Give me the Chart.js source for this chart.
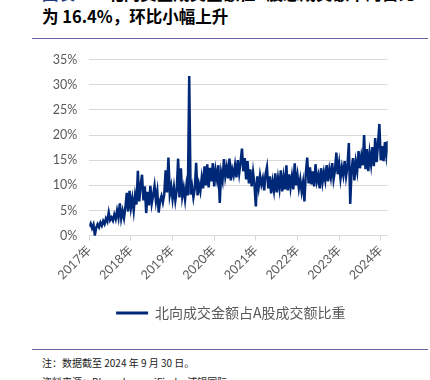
<!DOCTYPE html>
<html lang="zh">
<head>
<meta charset="UTF-8">
<title>北向成交金额占A股成交额比重</title>
<script src="https://cdn.jsdelivr.net/npm/chart.js"></script>
<style>
  html, body { margin: 0; padding: 0; background: #fff; }
  body { width: 430px; height: 380px; position: relative; overflow: hidden; font-family: "Noto Sans CJK SC", sans-serif; }
  .title { position: absolute; left: 42px; top: -18px; font-size: 16.5px; font-weight: bold; line-height: 23px; color: #000; white-space: nowrap; }
  .title .num { color: #1f3a7a; }
  .rule { position: absolute; left: 32px; width: 396px; height: 1px; background: #6464a0; }
  .note { position: absolute; left: 42px; font-size: 10px; color: #222; white-space: nowrap; line-height: 14px; }
  #wrap { position: absolute; left: 0; top: 40px; width: 430px; height: 300px; }
</style>
</head>
<body>
<div class="title"><span class="num">图表 11:</span> 北向资金成交金额在A股总成交额中的占比<br>为 16.4%，环比小幅上升</div>
<div class="rule" style="top:38px"></div>
<div id="wrap"><canvas id="myChart" width="430" height="300"></canvas></div>
<div class="rule" style="top:349px"></div>
<div class="note" style="top:356px">注：数据截至 2024 年 9 月 30 日。</div>
<div class="note" style="top:375px">资料来源：Bloomberg，iFind，浦银国际</div>
<script>
    const seriesName = '北向成交金额占A股成交额比重';
    const yearLabels = ['2017年', '2018年', '2019年', '2020年', '2021年', '2022年', '2023年', '2024年'];
    const pointsPerYear = 30;
    // share of A-share turnover, %
    const shareValues = [
        1.8, 2.4, 1.5, 2.2, 0.1, 1.6, 2.3, 1.7, 2.6, 2.0,
        2.9, 2.3, 3.4, 2.8, 4.6, 3.1, 3.6, 3.0, 4.2, 3.3,
        5.0, 3.6, 6.4, 3.4, 4.9, 3.5, 5.6, 8.5, 4.8, 8.9,
        5.6, 7.4, 5.0, 8.0, 6.2, 12.9, 6.8, 10.0, 12.1, 7.0,
        9.8, 4.5, 8.7, 6.0, 9.9, 6.4, 8.0, 9.9, 6.9, 8.8,
        4.6, 7.0, 7.9, 6.6, 8.2, 13.0, 8.6, 15.5, 8.2, 9.8,
        7.3, 9.6, 7.0, 9.0, 15.3, 7.6, 13.4, 7.8, 9.5, 7.2,
        10.0, 8.0, 31.7, 8.2, 9.8, 7.6, 9.4, 14.5, 8.0, 10.2,
        8.8, 11.5, 9.4, 13.8, 10.0, 14.2, 9.6, 13.5, 10.8, 14.4,
        9.8, 13.0, 11.2, 14.0, 6.5, 12.5, 11.0, 15.2, 11.8, 13.6,
        11.4, 15.3, 11.0, 13.2, 12.0, 14.0, 11.6, 15.0, 12.4, 14.6,
        17.3, 12.8, 15.4, 11.2, 14.8, 10.4, 13.2, 9.8, 12.6, 10.2,
        5.8, 11.8, 9.6, 12.0, 10.2, 11.4, 9.0, 12.2, 13.6, 9.4,
        11.8, 8.4, 10.8, 9.0, 12.4, 8.6, 11.4, 9.4, 13.0, 8.8,
        11.6, 9.2, 14.0, 9.0, 12.2, 9.6, 11.8, 9.2, 14.4, 10.0,
        12.0, 9.4, 11.2, 8.8, 10.6, 6.8, 12.4, 15.5, 10.4, 13.6,
        10.2, 12.8, 9.8, 14.2, 10.8, 12.0, 9.4, 13.4, 10.6, 12.6,
        11.0, 14.0, 10.8, 13.2, 11.6, 14.4, 11.2, 13.0, 16.5, 12.2,
        14.4, 11.4, 13.6, 12.0, 14.8, 11.8, 13.8, 18.4, 6.3, 13.2,
        15.4, 11.0, 14.6, 12.8, 16.8, 13.4, 15.8, 14.0, 20.0, 13.2,
        17.2, 12.8, 16.4, 14.2, 17.6, 13.8, 19.4, 14.6, 18.2, 22.2,
        15.0, 17.8, 14.8, 18.6, 16.0, 18.8
    ];

    const lineColor = '#002878';
    const tickColor = '#595959';
    const gridColor = '#d9d9d9';

    const legendShift = {
        id: 'legendShift',
        afterLayout(chart) {
            // legend sits centred on the whole frame, not on the padded area
            chart.legend.left += 17;
            chart.legend.right += 17;
        }
    };

    new Chart(document.getElementById('myChart'), {
        type: 'line',
        data: {
            datasets: [{
                label: seriesName,
                data: shareValues.map((v, i) => ({ x: i, y: v })),
                borderColor: lineColor,
                backgroundColor: lineColor,
                borderWidth: 2.5,
                pointRadius: 0,
                tension: 0
            }]
        },
        options: {
            responsive: false,
            animation: false,
            layout: { padding: { top: 15.7, bottom: 10, left: 40, right: 42.3 } },
            scales: {
                x: {
                    type: 'linear',
                    min: 0,
                    max: shareValues.length - 1,
                    afterFit: s => { s.height = 60.3; },
                    border: { display: true, color: gridColor },
                    grid: { drawOnChartArea: false, drawTicks: true, tickLength: 5, color: gridColor },
                    ticks: {
                        stepSize: pointsPerYear,
                        includeBounds: false,
                        autoSkip: false,
                        maxRotation: 45,
                        minRotation: 45,
                        padding: 2,
                        color: tickColor,
                        font: { family: 'Lato, "Noto Sans CJK SC"', size: 12.5 },
                        callback: v => yearLabels[v / pointsPerYear] || ''
                    }
                },
                y: {
                    min: 0,
                    max: 35,
                    afterFit: s => { s.width = 49.3; },
                    border: { display: false },
                    grid: { color: gridColor, drawTicks: false },
                    ticks: {
                        stepSize: 5,
                        padding: 12,
                        color: tickColor,
                        font: { family: 'Lato', size: 12.5 },
                        callback: v => v + '%'
                    }
                }
            },
            plugins: {
                legend: {
                    position: 'bottom',
                    labels: {
                        boxWidth: 32,
                        boxHeight: 3,
                        padding: 10,
                        color: tickColor,
                        font: { family: '"Noto Sans CJK SC"', size: 14 },
                        generateLabels: chart => Chart.defaults.plugins.legend.labels.generateLabels(chart)
                            .map(l => Object.assign(l, { lineWidth: 0, fillStyle: lineColor }))
                    }
                },
                tooltip: { enabled: false }
            }
        },
        plugins: [legendShift]
    });
</script>
</body>
</html>
